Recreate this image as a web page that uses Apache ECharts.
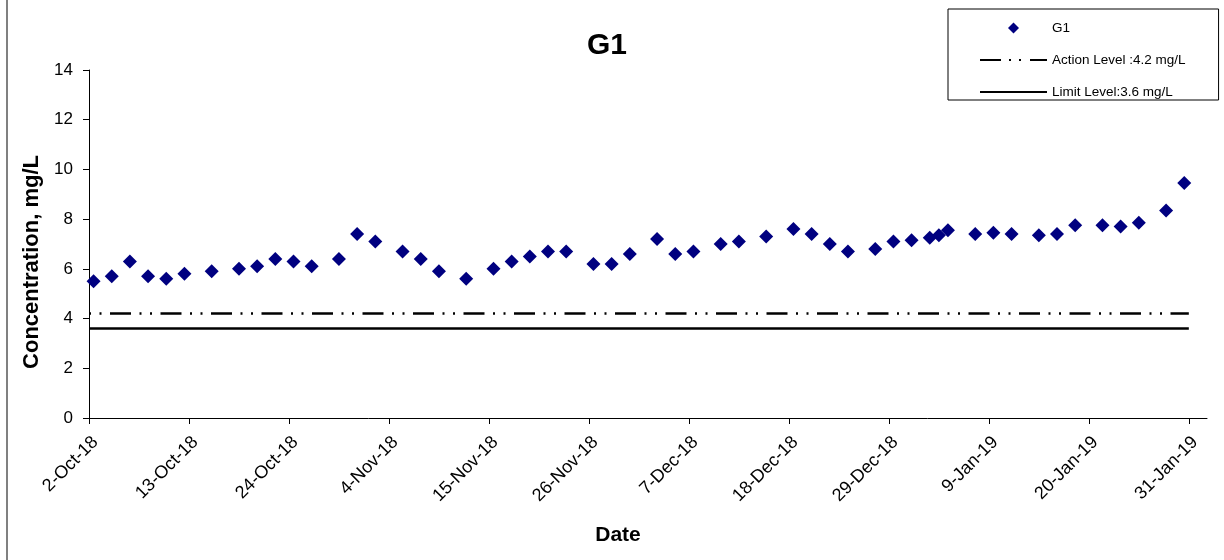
<!DOCTYPE html>
<html>
<head>
<meta charset="utf-8">
<script src="https://cdn.jsdelivr.net/npm/echarts@6/dist/echarts.min.js"></script>
<style>
html,body{margin:0;padding:0;background:#fff;}
#chart{width:1224px;height:560px;}
</style>
</head>
<body>
<div id="chart"></div>
<script>
// ---- data ----
const chartTitle = 'G1';
const seriesName = 'G1';
const sampleDates = [
  '2018-10-02','2018-10-04','2018-10-06','2018-10-08','2018-10-10','2018-10-12',
  '2018-10-15','2018-10-18','2018-10-20','2018-10-22','2018-10-24','2018-10-26',
  '2018-10-29','2018-10-31','2018-11-02','2018-11-05','2018-11-07','2018-11-09',
  '2018-11-12','2018-11-15','2018-11-17','2018-11-19','2018-11-21','2018-11-23',
  '2018-11-26','2018-11-28','2018-11-30','2018-12-03','2018-12-05','2018-12-07',
  '2018-12-10','2018-12-12','2018-12-15','2018-12-18','2018-12-20','2018-12-22',
  '2018-12-24','2018-12-27','2018-12-29','2018-12-31','2019-01-02','2019-01-03',
  '2019-01-04','2019-01-07','2019-01-09','2019-01-11','2019-01-14','2019-01-16',
  '2019-01-18','2019-01-21','2019-01-23','2019-01-25','2019-01-28','2019-01-30'
];
const g1Values = [
  5.5, 5.7, 6.3, 5.7, 5.6, 5.8,
  5.9, 6.0, 6.1, 6.4, 6.3, 6.1,
  6.4, 7.4, 7.1, 6.7, 6.4, 5.9,
  5.6, 6.0, 6.3, 6.5, 6.7, 6.7,
  6.2, 6.2, 6.6, 7.2, 6.6, 6.7,
  7.0, 7.1, 7.3, 7.6, 7.4, 7.0,
  6.7, 6.8, 7.1, 7.15, 7.25, 7.35,
  7.55, 7.4, 7.45, 7.4, 7.35, 7.4,
  7.75, 7.75, 7.7, 7.85, 8.35, 9.45
];
const actionName = 'Action Level :4.2 mg/L';
const limitName = 'Limit Level:3.6 mg/L';
const actionLevel = 4.2;
const limitLevel = 3.6;
const levelDates = ['2018-10-02', '2019-01-31'];
const axisStartDate = '2018-10-02';
const axisEndDate = '2019-02-02';
const tickStepDays = 11;
const yMin = 0, yMax = 14, yStep = 2;
const monthNames = ['Jan','Feb','Mar','Apr','May','Jun','Jul','Aug','Sep','Oct','Nov','Dec'];

// ---- helpers ----
const DAY = 86400000;
function toUTC(s){ const p = s.split('-').map(Number); return Date.UTC(p[0], p[1]-1, p[2]); }
const origin = toUTC(axisStartDate);
function dayIndex(s){ return (toUTC(s) - origin) / DAY; }
function fmtDay(v){
  const d = new Date(origin + Math.round(v) * DAY);
  return d.getUTCDate() + '-' + monthNames[d.getUTCMonth()] + '-' + String(d.getUTCFullYear()).slice(2);
}
// Excel date axis places each day's point in the middle of its day slot
const pointData = sampleDates.map((s, i) => [dayIndex(s) + 0.5, g1Values[i]]);
const actionData = levelDates.map(s => [dayIndex(s), actionLevel]);
const limitData = levelDates.map(s => [dayIndex(s), limitLevel]);

const FONT = '"Liberation Sans", Arial, sans-serif';
const DIAMOND = 'path://M0,-1L1,0L0,1L-1,0Z';
const chart = echarts.init(document.getElementById('chart'), null, {renderer: 'canvas'});
chart.setOption({
  backgroundColor: '#ffffff',
  animation: false,
  title: {
    text: chartTitle,
    left: 582,
    top: 26,
    textStyle: {fontFamily: FONT, fontSize: 30, fontWeight: 'bold', color: '#000'}
  },
  legend: {
    orient: 'vertical',
    left: 948,
    top: 9,
    padding: [12, 33, 1, 31],
    itemWidth: 67,
    itemHeight: 11,
    itemGap: 18,
    itemTextGap: 14,
    symbolKeepAspect: true,
    borderColor: '#000',
    borderWidth: 1,
    backgroundColor: '#fff',
    textStyle: {fontFamily: FONT, fontSize: 13.5, color: '#000'},
    data: [
      {name: seriesName, icon: DIAMOND},
      {name: actionName, itemStyle: {opacity: 0}, lineStyle: {type: [21, 8, 2, 8, 2, 9]}},
      {name: limitName, itemStyle: {opacity: 0}}
    ]
  },
  grid: {left: 89, right: 17, top: 70, bottom: 142},
  xAxis: {
    type: 'value',
    min: 0,
    max: dayIndex(axisEndDate),
    interval: tickStepDays,
    name: 'Date',
    nameLocation: 'middle',
    nameGap: 107,
    nameTextStyle: {fontFamily: FONT, fontSize: 21, fontWeight: 'bold', color: '#000', padding: [0, 60, 0, 0]},
    splitLine: {show: false},
    axisLine: {show: true, lineStyle: {color: '#000', width: 1}},
    axisTick: {show: true, inside: false, length: 6, lineStyle: {color: '#000'}},
    axisLabel: {
      rotate: 45,
      margin: 15,
      verticalAlign: 'top',
      fontFamily: FONT,
      fontSize: 18,
      color: '#000',
      showMaxLabel: false,
      formatter: v => fmtDay(v)
    }
  },
  yAxis: {
    type: 'value',
    min: yMin,
    max: yMax,
    interval: yStep,
    name: 'Concentration, mg/L',
    nameLocation: 'middle',
    nameGap: 43,
    nameTextStyle: {fontFamily: FONT, fontSize: 22, fontWeight: 'bold', color: '#000', padding: [0, 36, 0, 0]},
    splitLine: {show: false},
    axisLine: {show: true, lineStyle: {color: '#000', width: 1}},
    axisTick: {show: true, inside: false, length: 6, lineStyle: {color: '#000'}},
    axisLabel: {margin: 16, fontFamily: FONT, fontSize: 17, color: '#000'}
  },
  series: [
    {
      name: actionName,
      type: 'line',
      data: actionData,
      symbol: 'none',
      z: 1,
      lineStyle: {color: '#000', width: 2.5, type: [2, 8.5, 2, 8.5, 21, 8.5]},
      itemStyle: {color: '#000'}
    },
    {
      name: limitName,
      type: 'line',
      data: limitData,
      symbol: 'none',
      z: 1,
      lineStyle: {color: '#000', width: 2.5, type: 'solid'},
      itemStyle: {color: '#000'}
    },
    {
      name: seriesName,
      type: 'scatter',
      data: pointData,
      symbol: 'diamond',
      symbolSize: 14,
      z: 3,
      itemStyle: {color: '#000080', opacity: 1}
    }
  ],
  graphic: [
    {type: 'line', shape: {x1: 7, y1: 0, x2: 7, y2: 560}, style: {stroke: '#808080', lineWidth: 2}, silent: true}
  ]
});
</script>
</body>
</html>
